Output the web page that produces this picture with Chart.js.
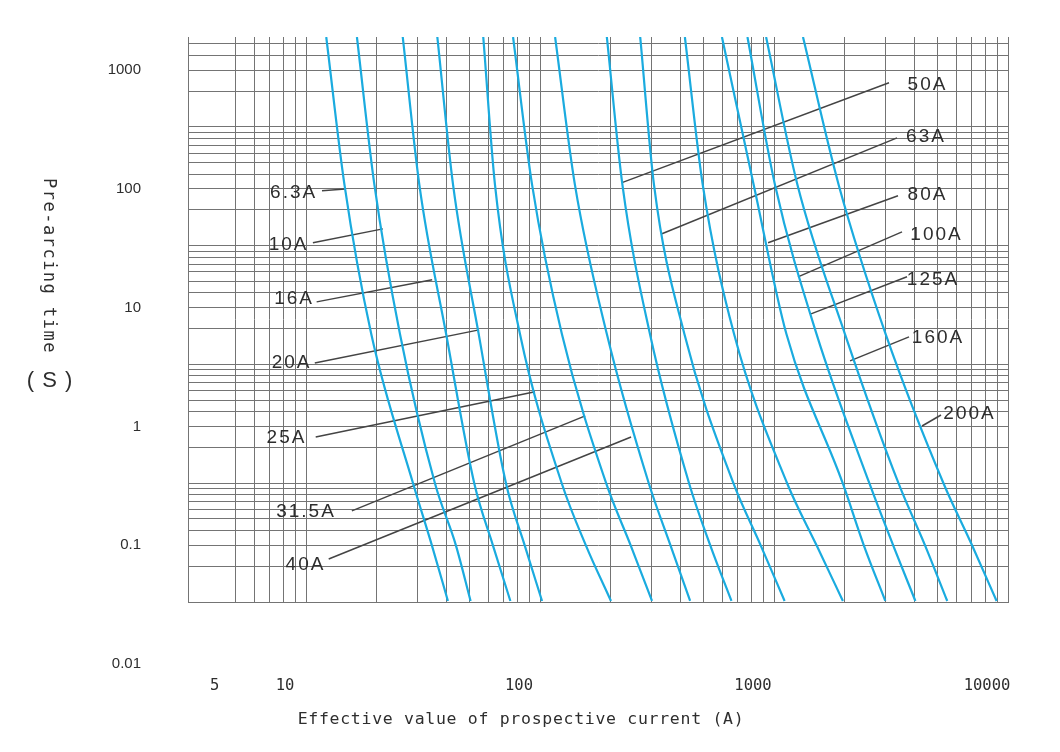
<!DOCTYPE html>
<html>
<head>
<meta charset="utf-8">
<title>Pre-arcing time-current characteristics</title>
<script src="https://cdn.jsdelivr.net/npm/chart.js@4.4.1/dist/chart.umd.min.js"></script>
<style>
  html, body { margin: 0; padding: 0; background: #fff; }
  #wrap { width: 1060px; height: 752px; position: relative; }
</style>
</head>
<body>
<div id="wrap"><canvas id="fuseChart"></canvas></div>
<script>
const ratings = ["6.3A", "10A", "16A", "20A", "25A", "31.5A", "40A", "50A", "63A", "80A", "100A", "125A", "160A", "200A"];

// pre-arcing time (s) at which every curve was read
const timeLevels = [1900, 108, 6, 0.33, 0.1, 0.034];

// prospective current (A) of each curve at those times
const current6_3A = [12.2, 14.6, 19.0, 28.7, 34.5, 40.4];
const current10A = [16.5, 19.6, 25.2, 35.6, 43.7, 50.5];
const current16A = [25.9, 30.5, 39.7, 52.4, 62.9, 74.7];
const current20A = [36.4, 42.5, 54.7, 71.6, 86.0, 102];
const current25A = [57.2, 64.2, 82.1, 124, 157, 201];
const current31_5A = [76.7, 92.5, 124, 192, 244, 301];
const current40A = [116, 141, 193, 292, 361, 438];
const current50A = [193, 225, 295, 434, 534, 658];
const current63A = [268, 307, 414, 672, 877, 1110];
const current80A = [416, 496, 675, 1140, 1520, 1970];
const current100A = [599, 819, 1130, 1970, 2420, 2990];
const current125A = [770, 1010, 1520, 2560, 3230, 4020];
const current160A = [925, 1260, 2010, 3410, 4420, 5500];
const current200A = [1330, 1890, 3000, 5310, 7020, 8940];

const curves = [
  current6_3A, current10A, current16A, current20A, current25A, current31_5A, current40A,
  current50A, current63A, current80A, current100A, current125A, current160A, current200A,
];

// leader lines, from the label to the curve
const leaderStartX = [11.7, 10.7, 11.1, 10.9, 11.0, 15.7, 12.5, 3100, 3355, 3388, 3524, 3701, 3775, 5172];
const leaderStartY = [96.4, 35.2, 11.2, 3.43, 0.817, 0.195, 0.0767, 782, 269, 87.5, 43.5, 18.2, 5.68, 1.25];
const leaderEndX = [14.7, 21.3, 34.6, 54.9, 95.2, 156, 245, 224, 332, 943, 1266, 1439, 2113, 4291];
const leaderEndY = [100, 46.1, 17.2, 6.51, 1.96, 1.23, 0.817, 113, 41.9, 35.2, 18.2, 8.88, 3.57, 1.01];

// rating label positions
const labelX = [8.85, 8.42, 8.89, 8.67, 8.25, 10.0, 9.95, 4529, 4463, 4529, 4948, 4781, 5022, 6848];
const labelY = [92.7, 33.8, 11.9, 3.43, 0.802, 0.191, 0.0683, 753, 275, 89.2, 41.1, 17.2, 5.57, 1.28];

const xTickLabels = [5, 10, 100, 1000, 10000];
const yTickLabels = [0.01, 0.1, 1, 10, 100, 1000];

const X_MIN = 3.13;
const X_MAX = 10000;
const Y_MIN = 0.1 / 3;
const Y_MAX = 1900;

const CURVE_COLOR = "#1aabdf";
const GRID_COLOR = "#747474";
const TEXT_COLOR = "#2e2e2e";
const HIDDEN = "rgba(0,0,0,0)";

function xGridValues() {
  const values = [];
  for (let n = 0; n <= 3; n += 1) {
    for (let k = 1; k <= 9; k += 1) {
      const v = k * Math.pow(10, n);
      if (v >= 5) values.push(v);
    }
  }
  values.push(10000);
  return values;
}

// the printed grid has its decade lines at a third of each labelled value
function yGridValues() {
  const values = [];
  for (let n = -1; n <= 3; n += 1) {
    for (let k = 1; k <= 9; k += 1) {
      const v = (k * Math.pow(10, n)) / 3;
      if (v >= Y_MIN * 0.999 && v <= Y_MAX) values.push(v);
    }
  }
  return values;
}

function matchLabel(value, labels) {
  return labels.find((label) => Math.abs(Math.log10(value) - Math.log10(label)) < 1e-6);
}

function buildDatasets() {
  const curveSets = curves.map((values, idx) => ({
    label: ratings[idx],
    data: timeLevels.map((t, i) => ({ x: values[i], y: t })),
    borderColor: CURVE_COLOR,
    borderWidth: 2.2,
    pointRadius: 0,
    cubicInterpolationMode: "monotone",
    order: 0,
  }));
  const leaderSets = ratings.map((name, idx) => ({
    label: `${name} leader`,
    data: [
      { x: leaderStartX[idx], y: leaderStartY[idx] },
      { x: leaderEndX[idx], y: leaderEndY[idx] },
    ],
    borderColor: "#444444",
    borderWidth: 1.5,
    pointRadius: 0,
    order: 1,
  }));
  return [...curveSets, ...leaderSets];
}

const annotationText = {
  id: "annotationText",
  afterDraw(chart) {
    const { ctx, chartArea } = chart;
    const x = chart.scales.x;
    const y = chart.scales.y;
    ctx.save();
    ctx.fillStyle = TEXT_COLOR;
    ctx.textBaseline = "middle";

    ctx.font = "19px 'Liberation Sans', Arial, sans-serif";
    ctx.letterSpacing = "2px";
    ctx.textAlign = "center";
    ratings.forEach((name, i) => {
      ctx.fillText(name, x.getPixelForValue(labelX[i]), y.getPixelForValue(labelY[i]));
    });

    // 0.01 lies below the drawn grid, so it is placed off the same scale
    ctx.letterSpacing = "0px";
    ctx.font = "15px 'Liberation Sans', Arial, sans-serif";
    ctx.textAlign = "right";
    ctx.fillText(String(yTickLabels[0]), chartArea.left - 47, y.getPixelForValue(yTickLabels[0]));

    ctx.font = "16.5px 'DejaVu Sans Mono', monospace";
    ctx.letterSpacing = "0.7px";
    ctx.textAlign = "center";
    ctx.fillText("Effective value of prospective current (A)", 521, 720);

    ctx.font = "17px 'DejaVu Sans Mono', monospace";
    ctx.letterSpacing = "1.5px";
    ctx.save();
    ctx.translate(48, 266);
    ctx.rotate(Math.PI / 2);
    ctx.fillText("Pre-arcing time", 0, 0);
    ctx.restore();

    ctx.font = "22px 'Liberation Sans', Arial, sans-serif";
    ctx.letterSpacing = "1px";
    ctx.fillText("( S )", 50, 381);
    ctx.restore();
  },
};

function buildChart() {
  const ctx = document.getElementById("fuseChart");
  return new Chart(ctx, {
    type: "line",
    data: { datasets: buildDatasets() },
    options: {
      responsive: true,
      maintainAspectRatio: false,
      animation: false,
      layout: { padding: { top: 37, right: 52, left: 0, bottom: 0 } },
      plugins: {
        legend: { display: false },
        tooltip: { enabled: false },
      },
      scales: {
        x: {
          type: "logarithmic",
          min: X_MIN,
          max: X_MAX,
          afterFit: (scale) => {
            scale.height = 150;
          },
          afterBuildTicks: (scale) => {
            scale.ticks = xGridValues().map((v) => ({ value: v }));
          },
          // invisible tick marks push the labels down without widening the layout padding
          grid: { color: GRID_COLOR, lineWidth: 1, drawTicks: true, tickLength: 75, tickColor: HIDDEN },
          border: { display: true, color: GRID_COLOR, width: 1 },
          ticks: {
            autoSkip: false,
            maxRotation: 0,
            padding: 0,
            labelOffset: -21,
            color: TEXT_COLOR,
            font: { family: "'DejaVu Sans Mono', monospace", size: 15.5 },
            callback: (value) => {
              const label = matchLabel(value, xTickLabels);
              return label === undefined ? "" : String(label);
            },
          },
        },
        y: {
          type: "logarithmic",
          min: Y_MIN,
          max: Y_MAX,
          afterFit: (scale) => {
            scale.width = 188;
          },
          afterBuildTicks: (scale) => {
            scale.ticks = yGridValues().map((v) => ({ value: v }));
          },
          grid: { color: GRID_COLOR, lineWidth: 1, drawTicks: true, tickLength: 47, tickColor: HIDDEN },
          border: { display: true, color: GRID_COLOR, width: 1 },
          ticks: {
            autoSkip: false,
            padding: 0,
            color: TEXT_COLOR,
            font: { family: "'Liberation Sans', Arial, sans-serif", size: 15 },
            callback: (value) => {
              const label = matchLabel(value, yTickLabels);
              return label === undefined ? "" : String(label);
            },
          },
        },
      },
    },
    plugins: [annotationText],
  });
}

document.addEventListener("DOMContentLoaded", () => {
  buildChart();
});
</script>
</body>
</html>
